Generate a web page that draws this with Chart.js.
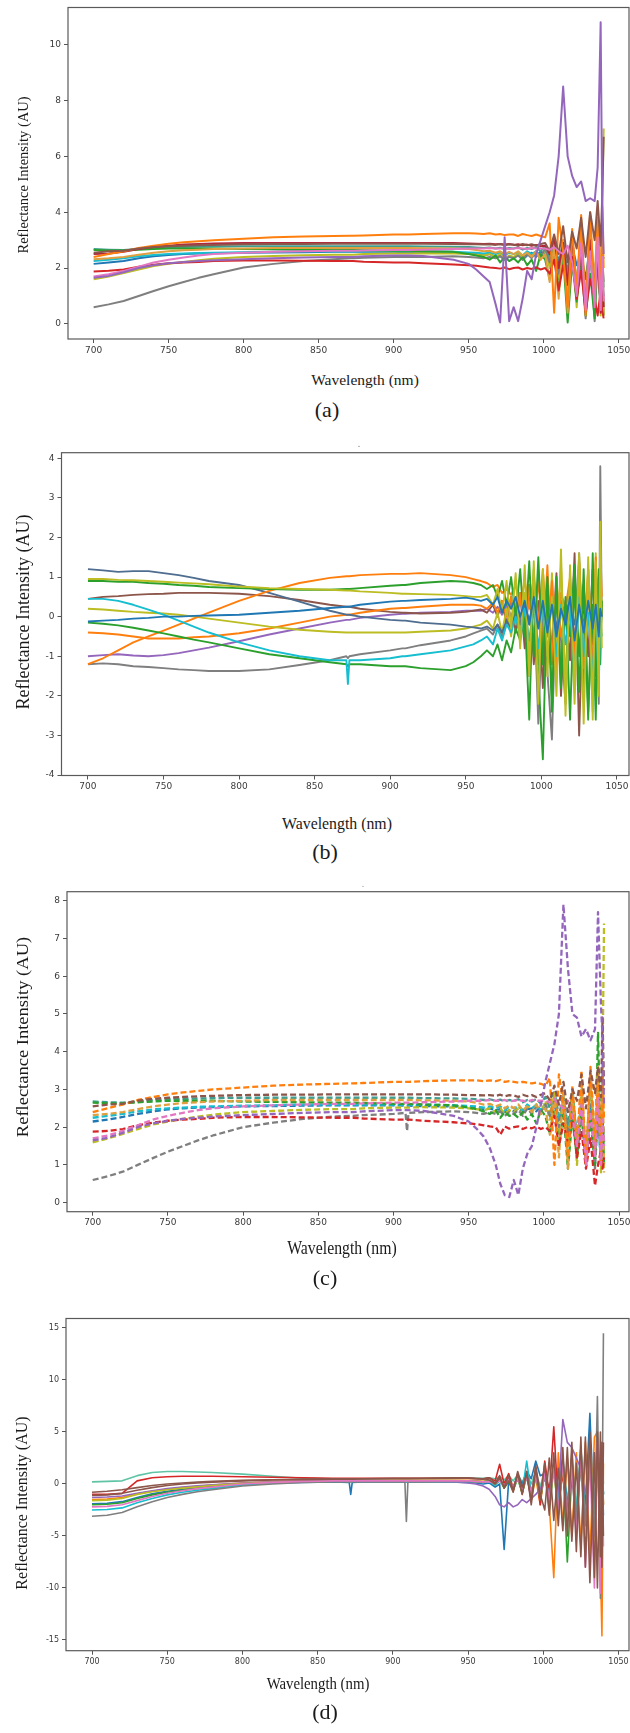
<!DOCTYPE html>
<html><head><meta charset="utf-8">
<script src="https://cdn.jsdelivr.net/npm/chart.js@4.4.1/dist/chart.umd.min.js"></script>
<style>
html,body{margin:0;padding:0;background:#fff;}
#wrap{position:relative;width:630px;height:1733px;overflow:hidden;background:#fff;}
#wrap canvas{position:absolute;left:0;}
.t{position:absolute;font-family:"Liberation Serif","Times New Roman",serif;color:#1a1a1a;white-space:nowrap;line-height:1;}
</style></head><body><div id="wrap"></div>
<script>
// ---------- DATA ----------
const wavelengths = [700,710,720,730,740,750,760,770,780, 800,820,840,860, 871,872,873, 880,900, 908,909,910, 920,940,950,955,960,
  964,968,971,974,977,980,983,986,989,992,995,998, 1001,1004,1007,1010,1013,1016,1019,1022,1025,1028,1031,1034, 1036,1038,1039,1040];
const xTickValues = [700,750,800,850,900,950,1000,1050];
const aTickValues = [0,2,4,6,8,10];
const bTickValues = [-4,-3,-2,-1,0,1,2,3,4];
const cTickValues = [0,1,2,3,4,5,6,7,8];
const dTickValues = [-15,-10,-5,0,5,10,15];

// (a)
const aBlue = [2.15,2.2,2.25,2.35,2.42,2.47,2.5,2.52,2.53, 2.55,2.56,2.57,2.58, 2.58,2.58,2.58, 2.58,2.58, 2.57,2.57,2.57, 2.56,2.55,2.53,2.5,2.45, 2.5,2.4,2.45,2.3,2.42,2.35,2.5,2.3,2.45,2.55,2.4,2.6, 2.5,2.2,2.7,2.3,2.6,1.9,2.8,2.1,2.5,1.6,2.9,1.4, 2.6,1.2,2.2,2.4];
const aOrange = [2.4,2.5,2.6,2.72,2.8,2.87,2.92,2.96,3.0, 3.05,3.1,3.13,3.15, 3.16,3.16,3.16, 3.17,3.2, 3.2,3.2,3.2, 3.22,3.25,3.25,3.24,3.22, 3.25,3.2,3.22,3.18,3.2,3.2,3.15,3.22,3.18,3.15,3.2,3.15, 3.1,3.6,0.4,3.8,2.6,0.6,3.4,1.2,3.9,0.3,4.0,0.8, 3.7,0.5,4.2,2.0];
const aGreen = [2.65,2.63,2.63,2.66,2.68,2.7,2.7,2.7,2.7, 2.68,2.67,2.66,2.65, 2.65,2.65,2.65, 2.64,2.62, 2.62,2.62,2.62, 2.6,2.58,2.5,2.45,2.4, 2.3,2.45,2.2,2.4,2.25,2.35,2.2,2.4,2.1,2.3,1.9,2.5, 2.3,1.6,2.7,1.2,2.4,0.05,2.2,0.8,2.6,0.3,1.8,0.2, 2.4,0.6,1.9,0.3];
const aRed = [1.88,1.9,1.95,2.05,2.12,2.17,2.2,2.22,2.25, 2.27,2.27,2.26,2.25, 2.25,2.25,2.25, 2.23,2.2, 2.2,2.2,2.2, 2.17,2.13,2.1,2.08,2.05, 2.02,2.0,1.98,2.02,1.96,2.0,2.02,1.95,2.0,1.97,2.02,1.95, 2.0,1.8,2.3,1.2,2.1,1.5,2.4,0.9,1.9,0.4,1.6,0.9, 0.3,1.2,0.5,0.2];
const aCrimson = [2.5,2.52,2.58,2.68,2.75,2.8,2.84,2.86,2.88, 2.9,2.9,2.9,2.9, 2.9,2.9,2.9, 2.9,2.9, 2.9,2.9,2.9, 2.9,2.9,2.88,2.87,2.86, 2.87,2.85,2.86,2.84,2.86,2.83,2.85,2.82,2.84,2.8,2.83,2.78, 2.8,2.5,3.1,2.0,2.9,1.4,3.2,1.0,2.7,0.6,3.0,1.2, 2.5,0.4,2.0,0.6];
const aPurple = [1.65,1.72,1.85,2.0,2.1,2.17,2.22,2.25,2.28, 2.32,2.35,2.38,2.4, 2.4,2.4,2.4, 2.42,2.45, 2.45,2.45,2.45, 2.43,2.3,2.15,1.95,1.7, 1.5,0.7,0.05,3.1,0.1,0.6,0.1,0.9,1.9,1.6,2.5,3.0, 3.5,4.0,4.6,6.0,8.5,6.0,5.3,4.9,5.1,4.4,4.5,4.4, 5.6,10.8,4.5,2.5];
const aBrown = [2.55,2.6,2.62,2.7,2.75,2.78,2.8,2.82,2.83, 2.85,2.86,2.86,2.87, 2.87,2.87,2.87, 2.87,2.87, 2.87,2.87,2.87, 2.87,2.86,2.85,2.85,2.84, 2.85,2.83,2.86,2.82,2.85,2.84,2.8,2.86,2.82,2.85,2.8,2.86, 2.9,2.6,3.2,2.5,3.5,2.2,3.3,2.7,3.8,2.4,4.0,3.0, 4.4,2.8,4.5,6.7];
const aPink = [1.7,1.78,1.9,2.05,2.2,2.3,2.38,2.45,2.5, 2.55,2.58,2.6,2.62, 2.62,2.62,2.62, 2.63,2.65, 2.65,2.65,2.65, 2.66,2.68,2.7,2.7,2.7, 2.72,2.7,2.7,2.72,2.68,2.7,2.72,2.7,2.68,2.72,2.7,2.7, 2.7,2.65,2.75,2.6,2.5,2.8,2.2,1.0,2.9,0.5,2.6,0.6, 3.1,0.5,2.4,0.8];
const aGray = [0.6,0.7,0.82,1.0,1.18,1.35,1.5,1.65,1.78, 2.02,2.15,2.25,2.32, 2.35,2.35,2.35, 2.37,2.4, 2.4,2.4,2.4, 2.4,2.42,2.4,2.38,2.35, 2.4,2.35,2.42,2.3,2.4,2.35,2.45,2.3,2.5,2.35,2.6,2.4, 2.7,2.2,2.9,1.8,3.0,1.6,2.5,0.9,2.2,0.2,2.7,0.1, 2.6,0.8,2.5,1.5];
const aOlive = [1.6,1.7,1.82,1.95,2.07,2.15,2.22,2.28,2.33, 2.4,2.43,2.46,2.48, 2.48,2.48,2.48, 2.5,2.52, 2.52,2.52,2.52, 2.53,2.52,2.5,2.48,2.45, 2.5,2.4,2.5,2.35,2.45,2.4,2.5,2.35,2.55,2.4,2.6,2.3, 2.7,2.0,3.0,1.6,2.8,1.2,3.1,0.6,2.9,0.4,3.3,1.0, 3.6,0.3,4.0,7.0];
const aCyan = [2.25,2.3,2.35,2.42,2.47,2.5,2.52,2.54,2.55, 2.57,2.58,2.6,2.6, 2.6,2.6,2.6, 2.6,2.6, 2.6,2.6,2.6, 2.6,2.58,2.56,2.55,2.52, 2.55,2.5,2.55,2.45,2.55,2.5,2.55,2.45,2.6,2.5,2.6,2.45, 2.6,2.3,2.8,2.0,2.7,1.6,2.6,1.2,2.4,0.8,2.5,0.9, 2.2,0.6,1.8,1.0];
const aTeal = [2.68,2.66,2.65,2.68,2.72,2.74,2.75,2.76,2.77, 2.78,2.78,2.78,2.78, 2.78,2.78,2.78, 2.78,2.78, 2.78,2.78,2.78, 2.77,2.76,2.75,2.74,2.72, 2.74,2.7,2.73,2.68,2.72,2.7,2.74,2.66,2.72,2.68,2.75,2.6, 2.8,2.4,3.0,2.2,2.9,1.8,3.1,1.4,2.8,0.9,3.2,1.1, 2.9,0.7,2.5,1.3];
const aAmber = [2.32,2.35,2.4,2.48,2.55,2.6,2.64,2.66,2.68, 2.7,2.72,2.72,2.72, 2.72,2.72,2.72, 2.72,2.72, 2.72,2.72,2.72, 2.71,2.7,2.68,2.65,2.6, 2.62,2.55,2.6,2.5,2.58,2.5,2.6,2.45,2.55,2.4,2.6,2.3, 2.5,1.5,2.8,0.9,3.0,0.4,2.7,1.5,3.3,0.8,3.5,1.6, 3.8,1.0,4.1,0.3];

// (b)
const bBlue = [-0.12,-0.1,-0.08,-0.05,-0.03,0.0,0.0,0.02,0.03, 0.05,0.1,0.15,0.22, 0.25,0.25,0.25, 0.3,0.38, 0.4,0.4,0.4, 0.42,0.45,0.48,0.45,0.4, 0.45,0.3,0.5,0.1,0.4,0.2,0.5,0.0,0.4,-0.2,0.5,-0.3, 0.4,-0.4,0.3,-0.5,0.2,-0.2,0.5,-0.6,0.3,-0.4,0.4,-0.3, 0.3,-0.5,0.2,0.0];
const bOrange = [-1.2,-1.05,-0.85,-0.65,-0.5,-0.35,-0.2,-0.05,0.1, 0.4,0.65,0.85,0.98, 1.02,1.02,1.02, 1.05,1.08, 1.08,1.08,1.08, 1.1,1.05,1.0,0.95,0.9, 0.85,0.75,0.8,0.6,0.7,0.55,0.8,0.3,0.9,0.2,1.0,-0.2, 1.2,-0.5,0.9,-1.5,0.6,0.2,0.8,-1.0,1.4,-0.8,1.2,-1.6, 1.5,-0.9,1.8,0.5];
const bGreen = [-0.15,-0.18,-0.22,-0.28,-0.35,-0.42,-0.5,-0.58,-0.65, -0.8,-0.95,-1.05,-1.15, -1.2,-1.25,-1.2, -1.2,-1.25, -1.25,-1.25,-1.25, -1.3,-1.35,-1.25,-1.15,-1.0, -0.85,-1.0,-0.7,-1.1,-0.6,-0.9,-0.3,-0.6,0.1,-2.6,1.2,-1.5, -3.6,0.8,-2.4,1.0,-1.8,0.5,-2.6,0.9,-1.9,1.2,-2.4,0.3, -2.6,1.0,-1.2,0.4];
const bPurple = [-1.0,-0.97,-0.95,-0.98,-1.0,-0.97,-0.92,-0.85,-0.78, -0.62,-0.45,-0.3,-0.15, -0.08,-0.08,-0.08, -0.03,0.05, 0.07,0.07,0.07, 0.1,0.12,0.15,0.15,0.15, 0.2,0.1,0.25,0.05,0.3,0.0,0.35,-0.1,0.3,-0.2,0.4,-0.1, 0.3,-0.3,0.5,-0.4,0.2,0.0,0.4,-0.5,0.3,-0.2,0.5,-0.4, 0.3,-0.2,0.1,0.0];
const bBrown = [0.45,0.5,0.52,0.55,0.57,0.58,0.6,0.6,0.6, 0.58,0.52,0.42,0.3, 0.25,0.25,0.25, 0.2,0.12, 0.1,0.1,0.1, 0.08,0.1,0.12,0.15,0.18, 0.1,0.3,0.0,0.4,-0.2,0.5,-0.4,0.6,-0.8,0.8,-1.2,0.4, -1.8,0.6,-0.9,1.1,-2.0,0.4,-1.1,1.6,-3.0,0.8,-1.0,1.2, -1.5,0.8,-0.6,0.3];
const bGray = [-1.2,-1.18,-1.2,-1.25,-1.27,-1.3,-1.33,-1.35,-1.37, -1.37,-1.33,-1.22,-1.1, -1.0,-1.05,-1.0, -0.95,-0.85, -0.8,-0.8,-0.8, -0.72,-0.6,-0.5,-0.42,-0.35, -0.3,-0.45,-0.2,-0.5,-0.1,-0.3,0.1,-0.4,0.3,-1.5,0.6,-2.7, 0.4,-1.4,-3.1,0.8,-0.6,-2.2,0.7,-1.3,1.6,-2.0,0.9,-1.6, 1.2,-2.2,3.8,0.0];
const bOlive = [0.95,0.95,0.93,0.92,0.9,0.88,0.86,0.84,0.82, 0.76,0.72,0.7,0.68, 0.66,0.66,0.66, 0.64,0.6, 0.58,0.58,0.58, 0.57,0.55,0.52,0.5,0.5, 0.55,0.3,0.7,0.1,0.9,-0.3,1.1,-0.8,1.3,-1.5,1.4,-2.2, 1.2,-1.0,0.5,-2.0,1.7,-2.5,1.3,-1.8,1.6,-2.7,1.5,-2.4, 1.4,-2.0,2.4,-0.8];
const bCyan = [0.45,0.45,0.4,0.3,0.18,0.05,-0.1,-0.25,-0.4, -0.65,-0.85,-1.0,-1.1, -1.1,-1.7,-1.1, -1.1,-1.05, -1.0,-1.0,-1.0, -0.95,-0.85,-0.75,-0.7,-0.6, -0.5,-0.7,-0.3,-0.6,-0.2,-0.4,0.0,-0.5,0.2,-0.6,0.3,-0.8, 0.2,-0.5,0.4,-1.0,0.3,-0.7,0.2,-1.5,0.5,-1.0,0.1,-1.6, 0.4,-1.8,0.0,-0.5];
const bSlate = [1.2,1.17,1.13,1.15,1.15,1.1,1.05,0.98,0.9, 0.8,0.6,0.38,0.15, 0.05,0.05,0.05, 0.0,-0.08, -0.1,-0.1,-0.1, -0.15,-0.2,-0.25,-0.27,-0.3, -0.25,-0.35,-0.2,-0.4,-0.1,-0.3,0.1,-0.2,0.3,-0.1,0.4,0.0, 0.3,-0.2,0.5,-0.3,0.4,0.0,0.5,-0.2,0.3,0.1,0.4,-0.1, 0.3,0.0,0.2,0.1];
const bTan = [-0.4,-0.42,-0.45,-0.5,-0.55,-0.55,-0.55,-0.52,-0.5, -0.42,-0.3,-0.15,0.0, 0.05,0.05,0.05, 0.1,0.2, 0.22,0.22,0.22, 0.25,0.3,0.3,0.3,0.28, 0.2,0.35,0.1,0.4,0.0,0.5,-0.2,0.6,-0.4,0.8,-0.6,1.0, -0.8,1.3,-1.2,0.9,-0.5,0.2,1.0,-0.8,1.2,-1.3,0.9,-0.7, 1.1,-1.0,0.8,0.2];
const bGreen2 = [0.9,0.9,0.88,0.88,0.85,0.83,0.8,0.78,0.75, 0.72,0.7,0.68,0.68, 0.7,0.7,0.7, 0.72,0.78, 0.8,0.8,0.8, 0.85,0.9,0.88,0.85,0.8, 0.7,0.8,0.5,0.9,0.3,1.0,0.0,1.2,-0.5,1.4,-1.0,1.5, -1.2,1.0,-2.0,0.6,-1.5,0.3,-0.5,1.3,-1.0,0.8,-2.6,1.6, -1.5,1.2,-0.8,0.4];
const bOlive2 = [0.2,0.18,0.15,0.12,0.1,0.08,0.05,0.0,-0.05, -0.15,-0.25,-0.33,-0.38, -0.4,-0.4,-0.4, -0.4,-0.4, -0.4,-0.4,-0.4, -0.38,-0.35,-0.3,-0.25,-0.2, -0.1,-0.3,0.1,-0.4,0.2,-0.5,0.4,-0.6,0.6,-0.9,0.8,-1.2, 0.9,-1.5,1.1,-0.8,1.3,-1.6,0.7,-2.2,1.5,-1.0,1.2,-2.6, 1.6,-1.4,0.9,0.2];

// (c)
const cBlue = [2.15,2.2,2.27,2.35,2.42,2.47,2.5,2.52,2.53, 2.55,2.56,2.57,2.58, 2.58,2.58,2.58, 2.58,2.58, 2.57,2.57,2.57, 2.56,2.55,2.53,2.5,2.47, 2.5,2.45,2.48,2.4,2.45,2.42,2.5,2.4,2.48,2.5,2.42,2.55, 2.5,2.3,2.6,2.2,2.5,2.0,2.6,1.8,2.4,1.5,2.5,1.3, 2.3,1.2,2.0,1.9];
const cOrange = [2.4,2.5,2.6,2.72,2.8,2.87,2.92,2.96,3.0, 3.05,3.1,3.13,3.15, 3.16,3.16,3.16, 3.17,3.2, 3.2,3.2,3.2, 3.22,3.24,3.24,3.24,3.22, 3.24,3.22,3.25,3.2,3.22,3.2,3.18,3.2,3.18,3.16,3.18,3.15, 3.1,3.3,1.0,3.4,2.6,1.2,3.1,1.5,3.5,1.0,3.6,1.4, 3.4,1.0,3.5,2.2];
const cGreen = [2.65,2.63,2.63,2.66,2.68,2.7,2.7,2.7,2.7, 2.68,2.67,2.66,2.65, 2.65,2.65,2.65, 2.64,2.62, 2.62,2.62,2.62, 2.6,2.58,2.52,2.48,2.42, 2.35,2.45,2.25,2.4,2.3,2.35,2.25,2.4,2.2,2.35,2.1,2.45, 2.3,1.8,2.6,1.5,2.4,0.9,2.3,1.2,2.6,1.0,2.2,1.0, 4.5,1.2,2.4,1.0];
const cRed = [1.88,1.9,1.95,2.05,2.12,2.17,2.2,2.22,2.25, 2.27,2.27,2.26,2.25, 2.25,2.25,2.25, 2.23,2.2, 2.2,2.2,2.2, 2.17,2.13,2.1,2.08,2.05, 2.02,2.0,1.8,2.02,1.96,2.0,2.02,1.95,2.0,1.97,2.02,1.95, 2.0,1.9,2.3,1.5,2.1,1.6,2.3,1.2,1.9,0.9,1.7,0.45, 1.0,1.4,0.9,1.2];
const cPurple = [1.65,1.72,1.85,2.0,2.1,2.17,2.22,2.25,2.28, 2.32,2.35,2.38,2.4, 2.4,2.4,2.4, 2.42,2.45, 2.45,2.45,2.45, 2.43,2.3,2.15,1.97,1.75, 1.45,1.0,0.5,0.2,0.15,0.6,0.2,0.9,1.3,1.5,2.0,2.6, 3.2,3.7,4.2,5.0,7.9,6.2,5.0,4.9,4.4,4.6,4.3,4.6, 7.7,5.2,4.4,2.6];
const cBrown = [2.55,2.6,2.62,2.7,2.75,2.78,2.8,2.82,2.83, 2.85,2.86,2.86,2.87, 2.87,2.87,2.87, 2.87,2.87, 2.87,2.87,2.87, 2.87,2.86,2.85,2.85,2.84, 2.85,2.83,2.86,2.82,2.85,2.84,2.8,2.86,2.82,2.85,2.8,2.86, 2.9,2.7,3.1,2.6,3.2,2.4,3.0,2.7,3.4,2.5,3.5,2.9, 3.6,2.8,4.9,3.0];
const cPink = [1.7,1.78,1.9,2.05,2.2,2.3,2.38,2.45,2.5, 2.55,2.58,2.6,2.62, 2.62,2.62,2.62, 2.63,2.65, 2.65,2.65,2.65, 2.66,2.68,2.7,2.7,2.7, 2.72,2.7,2.7,2.72,2.68,2.7,2.72,2.7,2.68,2.72,2.7,2.7, 2.7,2.65,2.75,2.6,2.5,2.7,2.3,1.5,2.6,1.0,2.4,1.2, 2.8,1.0,2.2,1.5];
const cGray = [0.6,0.7,0.82,1.0,1.18,1.35,1.5,1.65,1.78, 2.0,2.12,2.22,2.28, 2.3,2.3,2.3, 2.32,2.35, 2.38,1.9,2.38, 2.4,2.42,2.4,2.38,2.35, 2.4,2.35,2.42,2.3,2.4,2.35,2.45,2.3,2.5,2.35,2.55,2.4, 2.6,2.3,2.7,2.0,2.8,1.8,2.5,1.3,2.3,1.0,2.6,0.9, 2.4,1.2,2.2,1.6];
const cOlive = [1.6,1.7,1.82,1.95,2.07,2.15,2.22,2.28,2.33, 2.4,2.43,2.46,2.48, 2.48,2.48,2.48, 2.5,2.52, 2.52,2.52,2.52, 2.53,2.52,2.5,2.48,2.45, 2.5,2.4,2.5,2.35,2.45,2.4,2.5,2.35,2.55,2.4,2.6,2.35, 2.7,2.2,2.9,1.8,2.8,1.5,3.0,1.0,2.9,1.2,3.2,1.4, 3.4,0.8,3.6,7.4];
const cCyan = [2.25,2.3,2.35,2.42,2.47,2.5,2.52,2.54,2.55, 2.57,2.58,2.6,2.6, 2.6,2.6,2.6, 2.6,2.6, 2.6,2.6,2.6, 2.6,2.58,2.56,2.55,2.52, 2.55,2.5,2.55,2.45,2.55,2.5,2.55,2.45,2.6,2.5,2.6,2.45, 2.6,2.4,2.7,2.2,2.6,1.9,2.5,1.6,2.4,1.2,2.5,1.3, 2.2,1.0,1.8,1.4];
const cTeal = [2.68,2.66,2.65,2.68,2.72,2.74,2.75,2.76,2.77, 2.78,2.78,2.78,2.78, 2.78,2.78,2.78, 2.78,2.78, 2.78,2.78,2.78, 2.77,2.76,2.75,2.74,2.72, 2.74,2.7,2.73,2.68,2.72,2.7,2.74,2.66,2.72,2.68,2.75,2.62, 2.8,2.5,2.95,2.3,2.85,2.0,3.0,1.7,2.8,1.3,3.1,1.5, 2.8,1.1,2.4,1.6];
const cAmber = [2.32,2.35,2.4,2.48,2.55,2.6,2.64,2.66,2.68, 2.7,2.72,2.72,2.72, 2.72,2.72,2.72, 2.72,2.72, 2.72,2.72,2.72, 2.71,2.7,2.68,2.65,2.6, 2.62,2.55,2.6,2.5,2.58,2.5,2.6,2.45,2.55,2.4,2.6,2.35, 2.5,1.8,2.8,1.2,3.0,0.9,2.7,1.6,3.2,1.1,3.4,1.8, 3.6,1.3,3.7,0.8];

// (d)
const dTeal = [0.2,0.25,0.3,0.8,1.1,1.2,1.2,1.15,1.1, 0.95,0.75,0.55,0.5, 0.5,0.5,0.5, 0.5,0.5, 0.5,0.5,0.5, 0.5,0.5,0.55,0.55,0.55, 0.6,0.5,0.7,0.4,0.8,0.3,0.9,0.2,1.0,0.0,1.2,-0.3, 1.5,-1.0,2.0,-0.5,2.5,-1.5,1.2,-2.0,3.5,-2.5,2.2,-3.0, 4.0,-3.5,3.5,0.0];
const dBlue = [-1.9,-1.85,-1.7,-1.3,-0.95,-0.7,-0.5,-0.35,-0.2, 0.0,0.1,0.15,0.2, 0.15,-1.0,0.15, 0.2,0.2, 0.2,0.2,0.2, 0.2,0.2,0.15,0.1,0.0, 0.1,-0.3,0.0,-6.3,0.3,-0.3,0.8,0.0,1.2,0.5,2.2,0.8, 1.0,-0.5,1.5,-1.0,2.0,-2.0,1.0,-3.0,2.0,-2.0,6.8,-4.0, 4.5,-6.0,2.0,-3.0];
const dOrange = [-1.5,-1.45,-1.3,-0.95,-0.7,-0.5,-0.35,-0.22,-0.1, 0.1,0.2,0.25,0.3, 0.3,0.3,0.3, 0.3,0.35, 0.35,0.35,0.35, 0.35,0.35,0.35,0.3,0.25, 0.3,0.0,0.5,-0.4,0.6,-0.7,0.9,-1.0,1.2,-1.5,0.6,-2.0, 1.5,-2.0,-9.0,3.0,-4.0,2.5,-5.0,3.0,-6.0,4.0,-7.0,4.5, 5.0,-8.0,-14.6,2.0];
const dGreen = [-2.0,-1.95,-1.8,-1.4,-1.05,-0.8,-0.6,-0.45,-0.3, -0.05,0.1,0.2,0.25, 0.25,0.25,0.25, 0.28,0.3, 0.3,0.3,0.3, 0.3,0.3,0.3,0.25,0.2, 0.3,-0.1,0.4,-0.4,0.2,-0.6,0.5,-0.9,0.7,-1.2,0.9,-1.6, 1.1,-2.5,1.5,-3.0,2.0,-7.5,1.0,-4.0,2.5,-4.0,3.0,-5.0, 3.5,-6.0,2.0,-1.0];
const dRed = [-1.0,-1.0,-0.9,0.3,0.6,0.7,0.75,0.75,0.75, 0.7,0.65,0.6,0.55, 0.55,0.55,0.55, 0.55,0.55, 0.55,0.55,0.55, 0.55,0.55,0.55,0.5,0.5, 0.6,0.3,1.9,0.0,1.0,-0.4,0.7,-0.8,1.0,-1.2,1.4,-2.0, 2.2,-1.0,5.5,-2.0,1.0,-3.0,2.5,-4.5,3.0,-6.0,3.5,-7.0, 4.0,-8.0,3.0,-2.0];
const dPurple = [-1.3,-1.25,-1.15,-0.9,-0.65,-0.45,-0.3,-0.18,-0.08, 0.1,0.2,0.25,0.3, 0.3,0.3,0.3, 0.3,0.3, 0.3,0.3,0.3, 0.28,0.2,0.1,0.0,-0.2, -0.5,-1.2,-2.0,-2.2,-1.8,-2.2,-2.0,-1.5,-1.8,-1.4,-1.0,-0.5, 0.5,-1.0,2.0,-1.5,6.2,4.0,3.5,2.5,1.5,-1.0,2.0,-3.0, 3.0,-4.0,2.0,-1.0];
const dCyan = [-2.5,-2.45,-2.3,-1.8,-1.4,-1.05,-0.8,-0.6,-0.45, -0.1,0.1,0.2,0.25, 0.25,0.25,0.25, 0.25,0.25, 0.25,0.25,0.25, 0.25,0.25,0.25,0.2,0.15, 0.2,-0.1,0.3,-0.3,0.4,-0.5,0.6,-0.7,2.2,-0.9,1.0,-1.2, 1.2,-1.5,1.5,-2.0,2.0,-2.5,2.5,-3.0,3.0,-3.5,3.5,-4.0, 4.0,-4.5,2.0,-1.0];
const dOlive = [-1.6,-1.55,-1.4,-1.0,-0.75,-0.55,-0.4,-0.28,-0.15, 0.05,0.15,0.22,0.28, 0.28,0.28,0.28, 0.3,0.3, 0.3,0.3,0.3, 0.3,0.3,0.3,0.25,0.2, 0.3,0.0,0.4,-0.3,0.5,-0.5,0.6,-0.7,0.8,-1.0,1.0,-1.5, 1.2,-2.0,1.5,-3.0,2.0,-3.5,2.5,-4.0,3.0,-5.0,3.5,-6.0, 4.0,-7.0,3.0,-2.0];
const dGray = [-3.1,-3.0,-2.75,-2.2,-1.7,-1.3,-1.0,-0.75,-0.55, -0.2,0.0,0.15,0.2, 0.2,0.2,0.2, 0.2,0.2, 0.2,-3.6,0.2, 0.2,0.25,0.25,0.2,0.2, 0.3,0.0,0.5,-0.2,0.6,-0.4,0.8,-0.6,1.0,-0.8,1.2,-1.5, 1.5,-2.0,2.0,-2.5,2.5,-3.0,3.0,-3.5,3.5,-4.0,4.0,-5.0, 8.4,-11.0,-5.0,14.5];
const dPink = [-2.2,-2.15,-2.0,-1.6,-1.2,-0.9,-0.65,-0.45,-0.3, 0.0,0.15,0.25,0.3, 0.3,0.3,0.3, 0.3,0.3, 0.3,0.3,0.3, 0.3,0.3,0.3,0.25,0.2, 0.2,0.1,0.3,-0.1,0.4,-0.3,0.5,-0.5,0.6,-0.8,0.8,-1.2, 1.0,-1.5,1.5,-2.5,2.0,-3.5,1.5,-5.0,3.0,-8.0,2.5,-10.0, 4.0,-10.5,2.0,-6.0];
const dBrown2 = [-1.1,-1.05,-0.9,-0.6,-0.35,-0.15,0.0,0.1,0.18, 0.3,0.38,0.42,0.45, 0.45,0.45,0.45, 0.48,0.5, 0.5,0.5,0.5, 0.52,0.55,0.55,0.5,0.45, 0.6,0.1,0.8,-0.4,0.3,-0.8,1.2,-0.3,0.9,-1.6,1.8,-1.0, -2.5,2.5,-3.5,1.5,-4.5,3.5,-5.5,2.0,-7.0,4.5,-9.5,3.0, -10.0,5.0,-8.0,4.0];
const dBrown = [-0.8,-0.7,-0.55,-0.35,-0.15,0.0,0.1,0.18,0.25, 0.35,0.4,0.45,0.5, 0.5,0.5,0.5, 0.5,0.55, 0.55,0.55,0.55, 0.55,0.6,0.6,0.55,0.5, 0.4,0.0,0.6,-0.3,0.8,-0.6,1.0,-1.0,1.2,-2.0,1.5,-1.5, 2.0,-3.0,3.0,-4.0,3.5,-5.0,4.0,-6.5,4.5,-8.0,5.0,-9.0, 5.0,-7.0,4.0,-5.0];

// ---------- STYLE / RENDER ----------
const C = {blue:'#1f77b4',orange:'#ff7f0e',green:'#2ca02c',red:'#d62728',purple:'#9467bd',brown:'#8c564b',
  pink:'#e377c2',gray:'#7f7f7f',olive:'#bcbd22',cyan:'#17becf',slate:'#4f6d8f',crimson:'#b0283a',teal:'#3f9e8f',amber:'#e0a040',mint:'#5fc4a6'};

const panels = [
  {series:[[aBlue,C.blue],[aTeal,C.teal],[aCyan,C.cyan],[aOlive,C.olive],[aGray,C.gray],[aGreen,C.green],[aAmber,C.amber],[aRed,C.red],[aCrimson,C.crimson],[aOrange,C.orange],[aBrown,C.brown],[aPink,C.pink],[aPurple,C.purple]],
   yTicks:aTickValues, canvasTop:0, top:7.5, bottom:339, left:68, right:629, xmin:682.9, xmax:1056.9, ymin:-0.54, ymax:11.33, lw:2.0, dash:[], tickSize:9},
  {series:[[bGray,C.gray],[bPurple,C.purple],[bBrown,C.brown],[bTan,C.orange],[bOlive2,C.olive],[bSlate,C.slate],[bOrange,C.orange],[bGreen2,C.green],[bGreen,C.green],[bCyan,C.cyan],[bOlive,C.olive],[bBlue,C.blue]],
   yTicks:bTickValues, canvasTop:440, top:452.7, bottom:775.5, left:61.5, right:629, xmin:682.5, xmax:1058, ymin:-4.01, ymax:4.14, lw:1.9, dash:[], tickSize:9},
  {series:[[cBlue,C.blue],[cTeal,C.teal],[cCyan,C.cyan],[cOlive,C.olive],[cGray,C.gray],[cGreen,C.green],[cAmber,C.amber],[cRed,C.red],[cOrange,C.orange],[cPink,C.pink],[cBrown,C.brown],[cPurple,C.purple]],
   yTicks:cTickValues, canvasTop:880, top:891.7, bottom:1211.7, left:67, right:629, xmin:682.9, xmax:1056.6, ymin:-0.24, ymax:8.24, lw:2.3, dash:[6,3], tickSize:9},
  {series:[[dTeal,C.mint],[dBlue,C.blue],[dOrange,C.orange],[dGreen,C.green],[dRed,C.red],[dPurple,C.purple],[dCyan,C.cyan],[dOlive,C.olive],[dGray,C.gray],[dPink,C.pink],[dBrown2,C.brown],[dBrown,C.brown]],
   yTicks:dTickValues, canvasTop:1305, top:1318.5, bottom:1650.7, left:66, right:629, xmin:682.7, xmax:1057, ymin:-16.03, ymax:15.91, lw:1.6, dash:[], tickSize:8}
];

const framePlugin = {id:'frame', afterDraw(chart){
  const a = chart.chartArea, ctx = chart.ctx;
  ctx.save(); ctx.strokeStyle = '#5a5a5a'; ctx.lineWidth = 1.2;
  ctx.strokeRect(a.left, a.top, a.right - a.left, a.bottom - a.top); ctx.restore();
}};

const wrap = document.getElementById('wrap');
const fmt = v => (v < 0 ? '-' + Math.abs(v) : String(v));

panels.forEach(p => {
  const H = Math.ceil(p.bottom - p.canvasTop + 26);
  const axH = H - (p.bottom - p.canvasTop);
  const cv = document.createElement('canvas');
  cv.width = 630; cv.height = H; cv.style.top = p.canvasTop + 'px';
  cv.style.width = '630px'; cv.style.height = H + 'px';
  wrap.appendChild(cv);
  const n = p.series.length;
  const tickFont = {family:'"DejaVu Sans", sans-serif', size:p.tickSize};
  new Chart(cv, {
    type:'line',
    data:{datasets:p.series.map(([vals,color],i)=>({
      data: vals.map((v,k)=>({x:wavelengths[k], y:v})).filter(o=>o.x!==undefined),
      borderColor:color, borderWidth:p.lw, borderDash:p.dash, borderJoinStyle:'round',
      pointRadius:0, fill:false, tension:0, order:n - i
    }))},
    options:{
      responsive:false, animation:false, events:[], devicePixelRatio:1,
      layout:{padding:{top:p.top - p.canvasTop, left:0, right:630 - p.right, bottom:0}},
      plugins:{legend:{display:false}, tooltip:{enabled:false}, title:{display:false}},
      scales:{
        x:{type:'linear', min:p.xmin, max:p.xmax,
          afterBuildTicks:s=>{s.ticks = xTickValues.map(v=>({value:v}));},
          afterFit:s=>{s.height = axH; s.paddingLeft = 0; s.paddingRight = 0;},
          grid:{drawOnChartArea:false, drawTicks:true, tickLength:4, color:'#555', lineWidth:1},
          border:{display:false},
          ticks:{padding:2, color:'#3a3a3a', font:tickFont, maxRotation:0, autoSkip:false, callback:v=>fmt(v)}},
        y:{type:'linear', min:p.ymin, max:p.ymax,
          afterBuildTicks:s=>{s.ticks = p.yTicks.map(v=>({value:v}));},
          afterFit:s=>{s.width = p.left; s.paddingTop = 0; s.paddingBottom = 0;},
          grid:{drawOnChartArea:false, drawTicks:true, tickLength:4, color:'#555', lineWidth:1},
          border:{display:false},
          ticks:{padding:3, color:'#3a3a3a', font:tickFont, autoSkip:false, callback:v=>fmt(v)}}
      }
    },
    plugins:[framePlugin]
  });
});

// ---------- TEXT ----------
function addText(txt, x, y, size, extra, color){
  const d = document.createElement('div');
  d.className = 't'; d.textContent = txt;
  d.style.left = x + 'px'; d.style.top = y + 'px'; d.style.fontSize = size + 'px';
  if (color) d.style.color = color;
  d.style.transform = 'translate(-50%,-50%)' + (extra || '');
  wrap.appendChild(d);
}
const yTitle = 'Reflectance Intensity (AU)';
const xTitle = 'Wavelength (nm)';
const captions = ['(a)','(b)','(c)','(d)'];
addText(yTitle, 23, 175, 14.5, ' rotate(-90deg)');
addText(yTitle, 23, 612, 18, ' rotate(-90deg)');
addText(yTitle, 23, 1037, 18.5, ' rotate(-90deg) scaleY(0.85)');
addText(yTitle, 22, 1503, 16, ' rotate(-90deg)');
addText(xTitle, 365, 380, 15.5, '');
addText(xTitle, 337, 823, 17, ' scaleX(0.93)');
addText(xTitle, 342, 1247, 19, ' scaleX(0.83)');
addText(xTitle, 318, 1683, 17, ' scaleX(0.87)');
addText(captions[0], 327, 410, 22, '');
addText(captions[1], 325, 852, 22, '');
addText(captions[2], 325, 1278, 22, '');
addText(captions[3], 325, 1712, 22, '');
addText('.', 359, 444, 10, '', '#777');
addText('.', 363, 884, 10, '', '#999');
</script>
</body></html>
